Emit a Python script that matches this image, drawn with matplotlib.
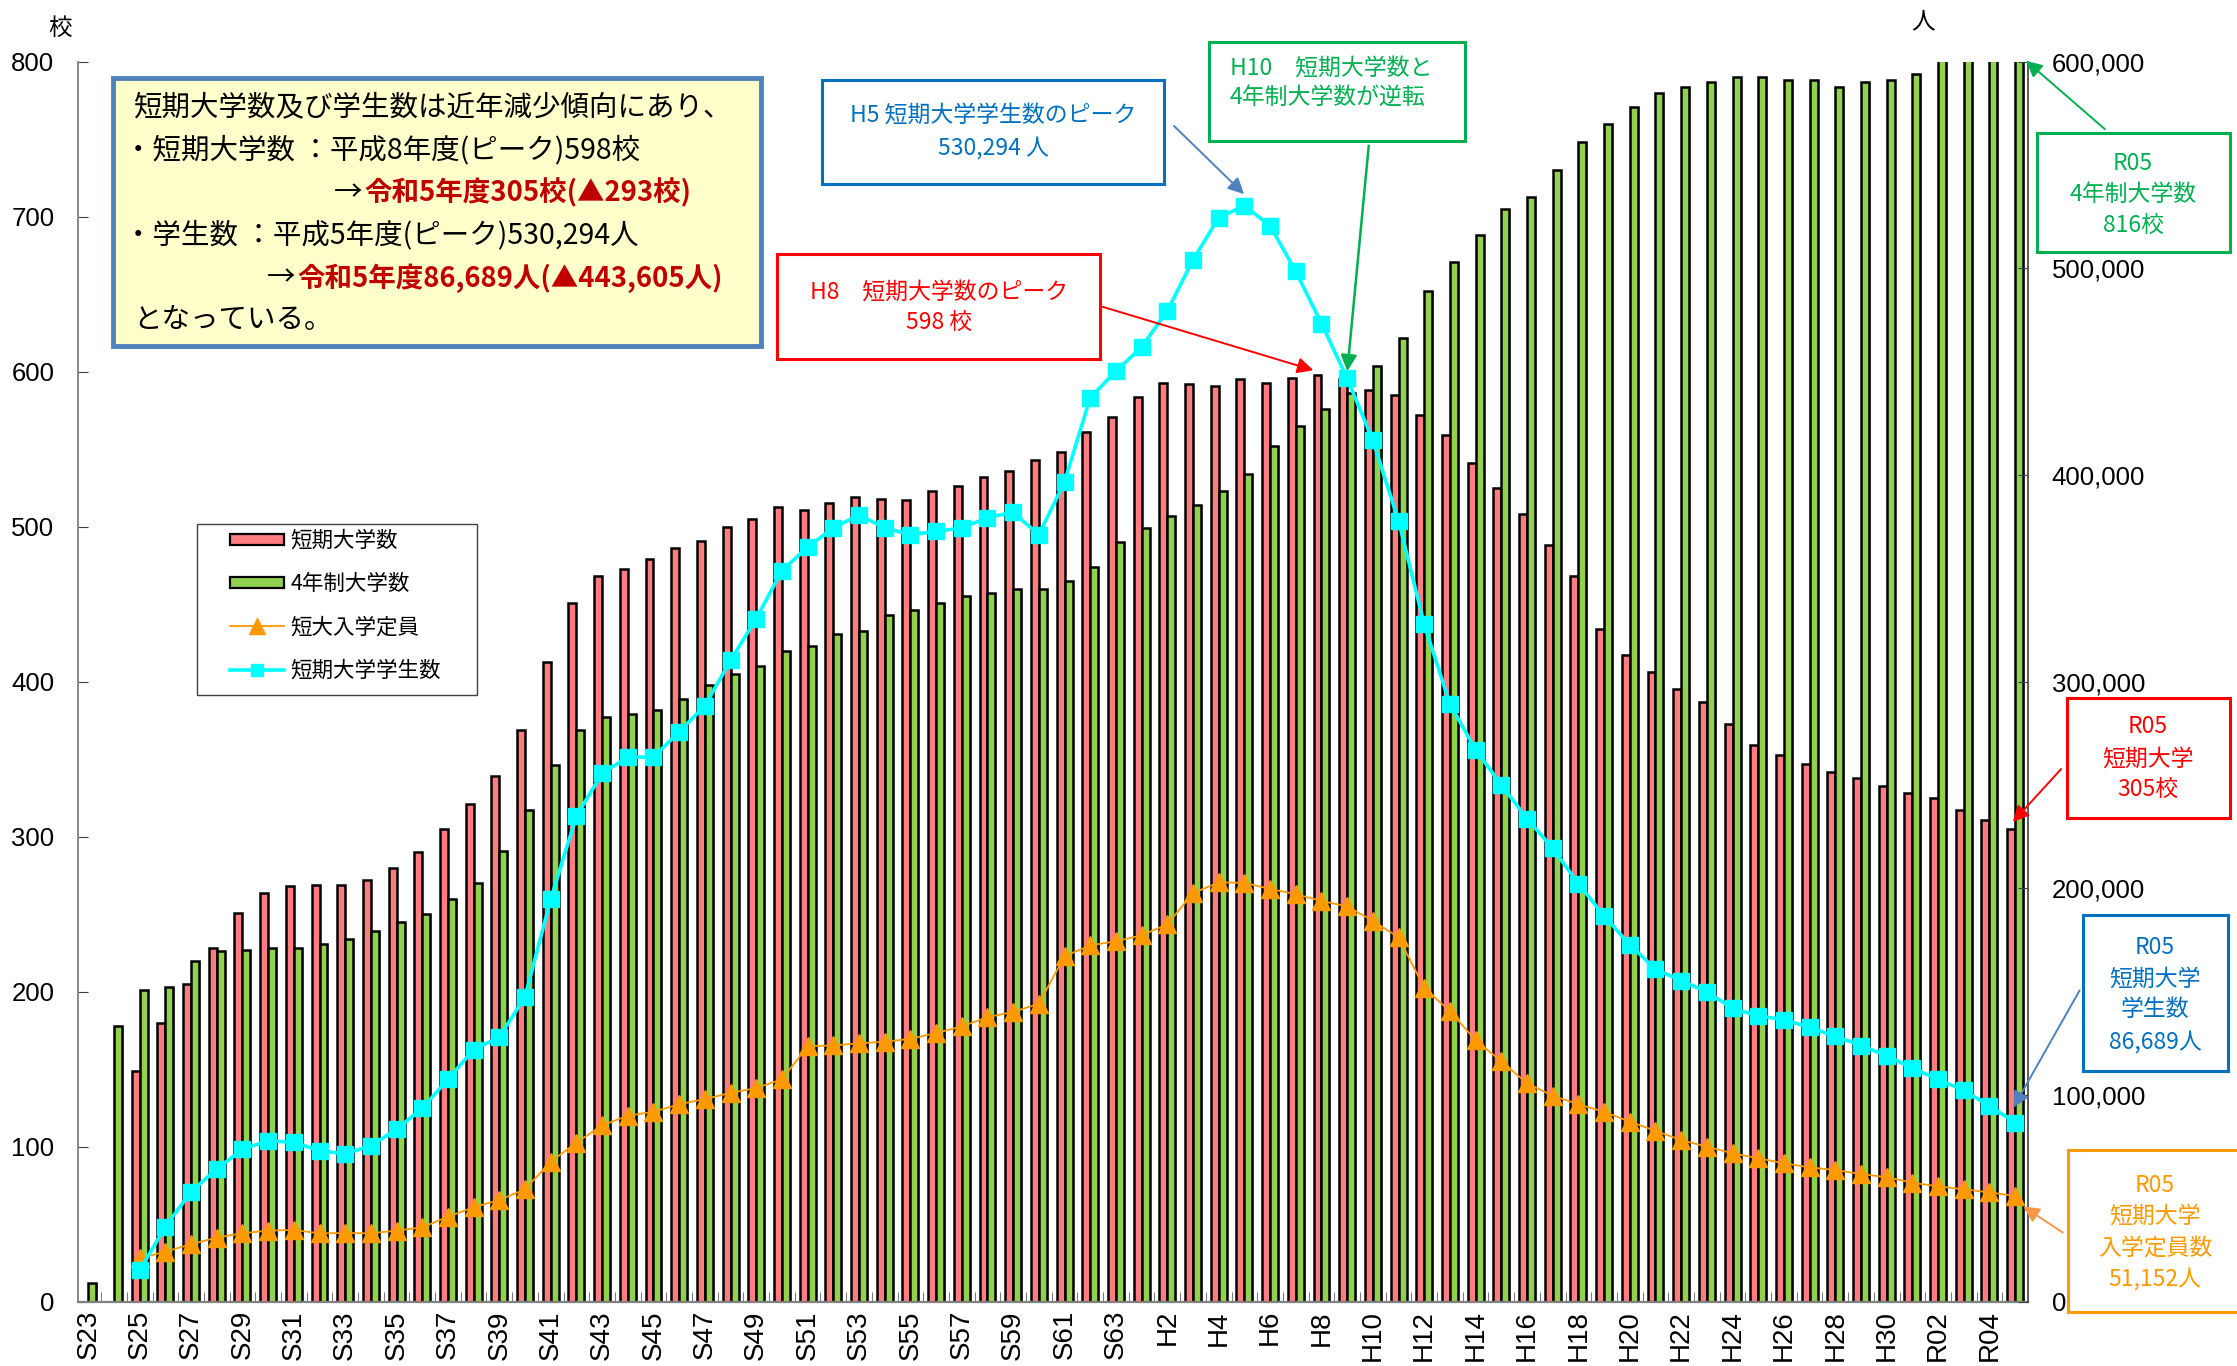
import numpy as np
import matplotlib
matplotlib.use("Agg")
import matplotlib.pyplot as plt
from matplotlib.patches import Rectangle, FancyArrowPatch, Patch
from matplotlib.lines import Line2D
from matplotlib.ticker import FuncFormatter

plt.rcParams['font.family'] = ['Liberation Sans', 'Noto Sans CJK JP']
JP = ['Noto Sans CJK JP', 'Liberation Sans']

# 年度 (S23 .. R05)
years = ['S23', 'S24', 'S25', 'S26', 'S27', 'S28', 'S29', 'S30', 'S31', 'S32',
         'S33', 'S34', 'S35', 'S36', 'S37', 'S38', 'S39', 'S40', 'S41', 'S42',
         'S43', 'S44', 'S45', 'S46', 'S47', 'S48', 'S49', 'S50', 'S51', 'S52',
         'S53', 'S54', 'S55', 'S56', 'S57', 'S58', 'S59', 'S60', 'S61', 'S62',
         'S63', 'H1', 'H2', 'H3', 'H4', 'H5', 'H6', 'H7', 'H8', 'H9',
         'H10', 'H11', 'H12', 'H13', 'H14', 'H15', 'H16', 'H17', 'H18', 'H19',
         'H20', 'H21', 'H22', 'H23', 'H24', 'H25', 'H26', 'H27', 'H28', 'H29',
         'H30', 'R01', 'R02', 'R03', 'R04', 'R05']

# 短期大学数 (校)
junior = [np.nan, np.nan, 149, 180, 205, 228, 251, 264, 268, 269,
          269, 272, 280, 290, 305, 321, 339, 369, 413, 451,
          468, 473, 479, 486, 491, 500, 505, 513, 511, 515,
          519, 518, 517, 523, 526, 532, 536, 543, 548, 561,
          571, 584, 593, 592, 591, 595, 593, 596, 598, 595,
          588, 585, 572, 559, 541, 525, 508, 488, 468, 434,
          417, 406, 395, 387, 373, 359, 353, 347, 342, 338,
          333, 328, 325, 317, 311, 305]

# 4年制大学数 (校)
univ = [12, 178, 201, 203, 220, 226, 227, 228, 228, 231,
        234, 239, 245, 250, 260, 270, 291, 317, 346, 369,
        377, 379, 382, 389, 398, 405, 410, 420, 423, 431,
        433, 443, 446, 451, 455, 457, 460, 460, 465, 474,
        490, 499, 507, 514, 523, 534, 552, 565, 576, 586,
        604, 622, 652, 671, 688, 705, 713, 730, 748, 760,
        771, 780, 784, 787, 790, 790, 788, 788, 784, 787,
        788, 792, 801, 809, 813, 816]

# 短大入学定員 (人)
capacity = [np.nan, np.nan, 21000, 24200, 27800, 31000, 33100, 34400, 34700, 33100,
            33200, 33100, 34400, 36000, 41100, 45700, 49200, 54400, 67700, 77000,
            85300, 90000, 91900, 95500, 98100, 101000, 103400, 107600, 123600, 124000,
            125000, 125800, 127200, 130000, 133200, 137700, 140200, 144200, 167200, 172400,
            174400, 177300, 182600, 197700, 202900, 202700, 199700, 197200, 193900, 191300,
            184300, 176300, 151900, 140600, 126500, 116300, 105700, 99700, 95500, 91900,
            87100, 82700, 78200, 75000, 71800, 69400, 67000, 65000, 63700, 61800,
            60200, 57600, 55800, 54400, 52900, 51152]

# 短期大学学生数 (人)
students = [np.nan, np.nan, 15098, 36300, 53200, 64200, 73700, 77885, 77100, 73100,
            71500, 75500, 83457, 93600, 107600, 122000, 128000, 147563, 194800, 235000,
            255600, 263500, 263500, 275800, 288400, 310300, 330500, 353782, 365100, 374400,
            380700, 374400, 371124, 372700, 374400, 379400, 382000, 371095, 396700, 437500,
            450200, 462000, 479389, 504087, 524538, 530294, 520638, 498516, 473279, 446750,
            416825, 377852, 327680, 289198, 267086, 250062, 233754, 219355, 202254, 186667,
            172726, 160976, 155273, 150007, 141970, 138260, 136534, 132681, 128460, 123949,
            119035, 113013, 107596, 102232, 94713, 86689]

W, H = 2237, 1366
fig = plt.figure(figsize=(W / 100, H / 100), dpi=100)


def fx(px):
    return px / W


def fy(py):
    return 1 - py / H


ax = fig.add_axes([fx(78), fy(1301.7), (2028 - 78) / W, (1301.7 - 61.7) / H])
x = np.arange(len(years))
bw = 0.31

# bars
ax.bar(x + bw / 2 + 0.07, univ, bw, color='#B0B0B0', linewidth=0, zorder=1)
ax.bar(x - bw / 2, junior, bw, color='#FF7C80', edgecolor='black', linewidth=1.8, zorder=2)
ax.bar(x + bw / 2, univ, bw, color='#92D050', edgecolor='black', linewidth=1.8, zorder=2)

ax.set_xlim(-0.4, len(years) - 0.5)
ax.set_ylim(0, 800)
ax.set_yticks(range(0, 801, 100))
ax.tick_params(axis='y', direction='in', length=7, labelsize=18.5, pad=17, color='#404040')
ax.set_xticks(x[::2])
ax.set_xticklabels(years[::2], rotation=90, fontsize=20)
ax.tick_params(axis='x', which='major', length=0, pad=6)
ax.set_xticks(x[:-1] + 0.5, minor=True)
ax.tick_params(axis='x', which='minor', direction='in', length=7, color='#606060')
ax.spines['top'].set_visible(False)
ax.spines['right'].set_visible(False)
ax.spines['left'].set_color('#808080')
ax.spines['left'].set_linewidth(1.3)
ax.spines['bottom'].set_color('#808080')
ax.spines['bottom'].set_linewidth(1.6)

# lines on right axis
ax2 = ax.twinx()
ax2.set_ylim(0, 600000)
ax2.plot(x, capacity, color='#FF9900', lw=1.3, marker='^', ms=13.5,
         mfc='#FF9900', mec='#FF9900', zorder=3)
ax2.plot(x, students, color='#00FFFF', lw=2.6, marker='s', ms=11,
         mfc='#00FFFF', mec='#00FFFF', zorder=4)
ax2.set_yticks(range(0, 600001, 100000))
ax2.yaxis.set_major_formatter(FuncFormatter(lambda v, p: f"{int(v):,}"))
ax2.tick_params(axis='y', direction='in', length=7, labelsize=18.5, pad=17, color='#404040')
for s in ['top', 'left', 'bottom']:
    ax2.spines[s].set_visible(False)
ax2.spines['right'].set_color('#404040')
ax2.spines['right'].set_linewidth(1.2)

# unit labels
fig.text(fx(60), fy(28), '校', fontsize=17, family=JP, ha='center', va='center')
fig.text(fx(1923), fy(22), '人', fontsize=17, family=JP, ha='center', va='center')

# legend
fig.add_artist(Rectangle((fx(197), fy(695)), (477 - 197) / W, (695 - 524) / H,
                         transform=fig.transFigure, facecolor='white',
                         edgecolor='#404040', lw=1.0, zorder=4))
handles = [Patch(facecolor='#FF7C80', edgecolor='black', lw=1.6),
           Patch(facecolor='#92D050', edgecolor='black', lw=1.6),
           Line2D([], [], color='#FF9900', lw=1.3, marker='^', ms=11, mec='#FF9900'),
           Line2D([], [], color='#00FFFF', lw=2.6, marker='s', ms=9, mec='#00FFFF')]
labels = ['短期大学数', '4年制大学数', '短大入学定員', '短期大学学生数']
leg = fig.legend(handles, labels, loc='upper left', bbox_to_anchor=(fx(230), fy(530)),
                 frameon=False, prop={'family': JP, 'size': 15.5}, handlelength=2.5,
                 handleheight=0.45, labelspacing=0.98, handletextpad=0.3,
                 borderpad=0, borderaxespad=0)
leg.set_zorder(5)


def box(x0, y0, x1, y1, color, lw=2.2, face='white'):
    fig.add_artist(Rectangle((fx(x0), fy(y1)), (x1 - x0) / W, (y1 - y0) / H,
                             transform=fig.transFigure, facecolor=face,
                             edgecolor=color, lw=lw, zorder=5, clip_on=False))


def txt(px, py, s, color, size=16.5, ha='center', weight='normal'):
    fig.text(fx(px), fy(py), s, color=color, fontsize=size, ha=ha, va='center',
             family=JP, weight=weight, zorder=6)


def arrow(x0, y0, x1, y1, color, lw=1.4):
    fig.add_artist(FancyArrowPatch((fx(x0), fy(y0)), (fx(x1), fy(y1)),
                                   transform=fig.transFigure, arrowstyle='-|>',
                                   mutation_scale=24, color=color, lw=lw, zorder=6))


# summary box
fs = 20.5
fr = 19.8
box(113, 78, 761, 346, '#4F81BD', lw=3.5, face='#FFFFCC')
txt(133, 107, '短期大学数及び学生数は近年減少傾向にあり、', 'black', fs, ha='left')
txt(124, 150, '・短期大学数 ：平成8年度(ピーク)598校', 'black', fs, ha='left')
txt(334, 193, '→', 'black', fs, ha='left')
txt(364, 193, '令和5年度305校(▲293校)', '#C00000', fr, ha='left', weight='bold')
txt(124, 235, '・学生数 ：平成5年度(ピーク)530,294人', 'black', fs, ha='left')
txt(267, 278, '→', 'black', fs, ha='left')
txt(297, 278, '令和5年度86,689人(▲443,605人)', '#C00000', fr, ha='left', weight='bold')
txt(133, 320, 'となっている。', 'black', fs, ha='left')

# H5 peak
box(822, 80, 1164, 184, '#0070C0')
txt(993, 115, 'H5 短期大学学生数のピーク', '#0070C0')
txt(993, 148, '530,294 人', '#0070C0')
arrow(1172, 124, 1246, 196, '#4F81BD')

# H8 peak
box(777, 254, 1100, 359, '#FF0000')
txt(939, 292, 'H8　短期大学数のピーク', '#FF0000')
txt(939, 322, '598 校', '#FF0000')
arrow(1100, 306, 1316, 371, '#FF0000')

# H10 reversal
box(1209, 42, 1465, 141, '#00B050')
txt(1230, 68, 'H10　短期大学数と', '#00B050', ha='left')
txt(1230, 97, '4年制大学数が逆転', '#00B050', ha='left')
arrow(1369, 143, 1347, 374, '#00B050', lw=1.8)

# R05 boxes
box(2037, 133, 2230, 252, '#00B050')
txt(2133, 163, 'R05', '#00B050')
txt(2133, 194, '4年制大学数', '#00B050')
txt(2133, 225, '816校', '#00B050')
arrow(2107, 131, 2024, 59, '#00B050')

box(2067, 698, 2230, 818, '#FF0000')
txt(2148, 727, 'R05', '#FF0000')
txt(2148, 759, '短期大学', '#FF0000')
txt(2148, 789, '305校', '#FF0000')
arrow(2063, 767, 2011, 824, '#FF0000')

box(2083, 915, 2228, 1071, '#0070C0')
txt(2155, 948, 'R05', '#0070C0')
txt(2155, 979, '短期大学', '#0070C0')
txt(2155, 1009, '学生数', '#0070C0')
txt(2155, 1042, '86,689人', '#0070C0')
arrow(2081, 988, 2012, 1110, '#4F81BD')

box(2068, 1150, 2245, 1312, '#FF9900')
txt(2155, 1186, 'R05', '#FF9900')
txt(2155, 1216, '短期大学', '#FF9900')
txt(2155, 1248, '入学定員数', '#FF9900')
txt(2155, 1279, '51,152人', '#FF9900')
arrow(2065, 1234, 2021, 1205, '#F79646')

fig.savefig('out.png', dpi=100)
